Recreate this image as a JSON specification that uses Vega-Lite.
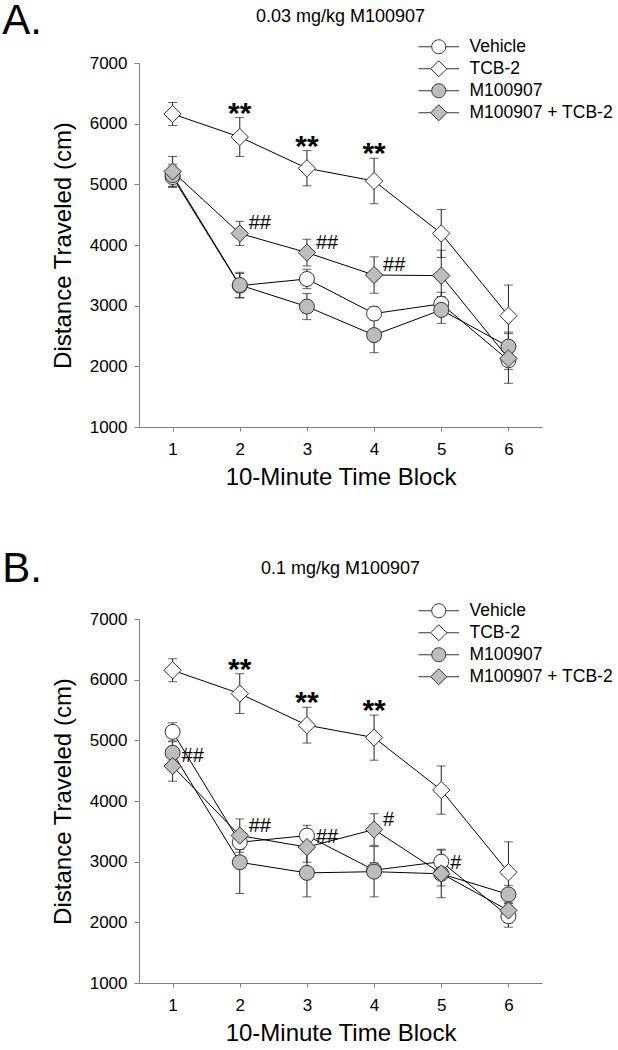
{
  "$schema": "https://vega.github.io/schema/vega-lite/v6.json",
  "background": "white",
  "padding": {"left": 2, "top": 0, "right": 0, "bottom": 0},
  "config": {
    "font": "Liberation Sans",
    "view": {"stroke": null},
    "axis": {"grid": false, "domainColor": "#808080", "tickColor": "#808080", "labelColor": "black", "titleColor": "black", "labelFontSize": 17, "titleFontSize": 24, "titleFontWeight": "normal", "labelFont": "Liberation Sans", "titleFont": "Liberation Sans"},
    "title": {"fontWeight": "normal", "color": "black", "font": "Liberation Sans"}
  },
  "datasets": {
    "pts": [
      {"panel": "A", "group": "Vehicle", "block": 1, "mean": 5120, "sem": 170},
      {"panel": "A", "group": "Vehicle", "block": 2, "mean": 3330, "sem": 200},
      {"panel": "A", "group": "Vehicle", "block": 3, "mean": 3440, "sem": 160},
      {"panel": "A", "group": "Vehicle", "block": 4, "mean": 2870, "sem": 110},
      {"panel": "A", "group": "Vehicle", "block": 5, "mean": 3030, "sem": 190},
      {"panel": "A", "group": "Vehicle", "block": 6, "mean": 2100, "sem": 150},
      {"panel": "A", "group": "TCB-2", "block": 1, "mean": 6160, "sem": 190},
      {"panel": "A", "group": "TCB-2", "block": 2, "mean": 5780, "sem": 320},
      {"panel": "A", "group": "TCB-2", "block": 3, "mean": 5265, "sem": 290},
      {"panel": "A", "group": "TCB-2", "block": 4, "mean": 5055, "sem": 375},
      {"panel": "A", "group": "TCB-2", "block": 5, "mean": 4190, "sem": 395},
      {"panel": "A", "group": "TCB-2", "block": 6, "mean": 2835, "sem": 505},
      {"panel": "A", "group": "M100907", "block": 1, "mean": 5150, "sem": 180},
      {"panel": "A", "group": "M100907", "block": 2, "mean": 3340, "sem": 210},
      {"panel": "A", "group": "M100907", "block": 3, "mean": 2985, "sem": 215},
      {"panel": "A", "group": "M100907", "block": 4, "mean": 2515, "sem": 290},
      {"panel": "A", "group": "M100907", "block": 5, "mean": 2930, "sem": 222},
      {"panel": "A", "group": "M100907", "block": 6, "mean": 2325, "sem": 240},
      {"panel": "A", "group": "M100907 + TCB-2", "block": 1, "mean": 5210, "sem": 248},
      {"panel": "A", "group": "M100907 + TCB-2", "block": 2, "mean": 4190, "sem": 200},
      {"panel": "A", "group": "M100907 + TCB-2", "block": 3, "mean": 3875, "sem": 220},
      {"panel": "A", "group": "M100907 + TCB-2", "block": 4, "mean": 3505, "sem": 300},
      {"panel": "A", "group": "M100907 + TCB-2", "block": 5, "mean": 3495, "sem": 420},
      {"panel": "A", "group": "M100907 + TCB-2", "block": 6, "mean": 2130, "sem": 410},
      {"panel": "B", "group": "Vehicle", "block": 1, "mean": 5140, "sem": 150},
      {"panel": "B", "group": "Vehicle", "block": 2, "mean": 3320, "sem": 120},
      {"panel": "B", "group": "Vehicle", "block": 3, "mean": 3430, "sem": 170},
      {"panel": "B", "group": "Vehicle", "block": 4, "mean": 2860, "sem": 120},
      {"panel": "B", "group": "Vehicle", "block": 5, "mean": 3000, "sem": 190},
      {"panel": "B", "group": "Vehicle", "block": 6, "mean": 2100, "sem": 180},
      {"panel": "B", "group": "TCB-2", "block": 1, "mean": 6155, "sem": 190},
      {"panel": "B", "group": "TCB-2", "block": 2, "mean": 5770, "sem": 328},
      {"panel": "B", "group": "TCB-2", "block": 3, "mean": 5250, "sem": 295},
      {"panel": "B", "group": "TCB-2", "block": 4, "mean": 5045, "sem": 372},
      {"panel": "B", "group": "TCB-2", "block": 5, "mean": 4180, "sem": 398},
      {"panel": "B", "group": "TCB-2", "block": 6, "mean": 2825, "sem": 502},
      {"panel": "B", "group": "M100907", "block": 1, "mean": 4795, "sem": 180},
      {"panel": "B", "group": "M100907", "block": 2, "mean": 2990, "sem": 515},
      {"panel": "B", "group": "M100907", "block": 3, "mean": 2815, "sem": 395},
      {"panel": "B", "group": "M100907", "block": 4, "mean": 2835, "sem": 415},
      {"panel": "B", "group": "M100907", "block": 5, "mean": 2800, "sem": 200},
      {"panel": "B", "group": "M100907", "block": 6, "mean": 2460, "sem": 150},
      {"panel": "B", "group": "M100907 + TCB-2", "block": 1, "mean": 4575, "sem": 250},
      {"panel": "B", "group": "M100907 + TCB-2", "block": 2, "mean": 3430, "sem": 275},
      {"panel": "B", "group": "M100907 + TCB-2", "block": 3, "mean": 3240, "sem": 250},
      {"panel": "B", "group": "M100907 + TCB-2", "block": 4, "mean": 3530, "sem": 260},
      {"panel": "B", "group": "M100907 + TCB-2", "block": 5, "mean": 2805, "sem": 400},
      {"panel": "B", "group": "M100907 + TCB-2", "block": 6, "mean": 2195, "sem": 200}
    ],
    "ann": [
      {"panel": "A", "kind": "star", "block": 2, "at": 6100, "label": "**"},
      {"panel": "A", "kind": "star", "block": 3, "at": 5555, "label": "**"},
      {"panel": "A", "kind": "star", "block": 4, "at": 5430, "label": "**"},
      {"panel": "A", "kind": "hash", "block": 2, "at": 4190, "label": "##"},
      {"panel": "A", "kind": "hash", "block": 3, "at": 3875, "label": "##"},
      {"panel": "A", "kind": "hash", "block": 4, "at": 3505, "label": "##"},
      {"panel": "B", "kind": "star", "block": 2, "at": 6098, "label": "**"},
      {"panel": "B", "kind": "star", "block": 3, "at": 5545, "label": "**"},
      {"panel": "B", "kind": "star", "block": 4, "at": 5417, "label": "**"},
      {"panel": "B", "kind": "hash", "block": 1, "at": 4575, "label": "##"},
      {"panel": "B", "kind": "hash", "block": 2, "at": 3430, "label": "##"},
      {"panel": "B", "kind": "hash", "block": 3, "at": 3240, "label": "##"},
      {"panel": "B", "kind": "hash", "block": 4, "at": 3530, "label": "#"},
      {"panel": "B", "kind": "hash", "block": 5, "at": 2805, "label": "#"}
    ]
  },
  "spacing": 59,
  "vconcat": [
    {
      "title": {"text": "A.", "anchor": "start", "fontSize": 42, "frame": "bounds", "offset": -35, "dx": -49},
      "vconcat": [
        {
          "title": {"text": "0.03 mg/kg M100907", "fontSize": 18, "frame": "group", "anchor": "middle", "offset": 12},
          "width": 403,
          "height": 364,
          "encoding": {
            "x": {"field": "block", "type": "quantitative", "scale": {"domain": [0.5, 6.5], "nice": false, "zero": false}, "axis": {"values": [1, 2, 3, 4, 5, 6], "title": "10-Minute Time Block", "tickSize": 4, "labelPadding": 10, "titlePadding": 8, "labelFlush": false}}
          },
          "layer": [
            {
              "data": {"name": "pts"}, "transform": [{"filter": "datum.panel == 'A'"}],
              "mark": {"type": "line", "color": "black", "strokeWidth": 1},
              "encoding": {
                "y": {"field": "mean", "type": "quantitative", "scale": {"domain": [1000, 7000], "nice": false, "zero": false}, "axis": {"values": [1000, 2000, 3000, 4000, 5000, 6000, 7000], "format": "d", "title": "Distance Traveled (cm)", "tickSize": 5, "labelPadding": 7, "titlePadding": 14}},
                "detail": {"field": "group"},
                "order": {"field": "block"}
              }
            },
            {
              "data": {"name": "pts"}, "transform": [{"filter": "datum.panel == 'A'"}],
              "mark": {"type": "errorbar", "ticks": true, "size": 9, "thickness": 1, "color": "#222"},
              "encoding": {
                "y": {"field": "mean", "type": "quantitative", "title": "Distance Traveled (cm)"},
                "yError": {"field": "sem"},
                "detail": {"field": "group"}
              }
            },
            {
              "data": {"name": "pts"}, "transform": [{"filter": "datum.panel == 'A'"}],
              "mark": {"type": "point", "filled": true, "stroke": "#333", "strokeWidth": 1, "size": 225, "opacity": 1},
              "encoding": {
                "y": {"field": "mean", "type": "quantitative", "title": "Distance Traveled (cm)"},
                "shape": {"field": "group", "type": "nominal", "scale": {"domain": ["Vehicle", "TCB-2", "M100907", "M100907 + TCB-2"], "range": ["circle", "M-1.15,0L0,-1.15L1.15,0L0,1.15Z", "circle", "M-1.15,0L0,-1.15L1.15,0L0,1.15Z"]}, "legend": null},
                "fill": {"field": "group", "type": "nominal", "scale": {"domain": ["Vehicle", "TCB-2", "M100907", "M100907 + TCB-2"], "range": ["white", "white", "#bdbdbd", "#bdbdbd"]}, "legend": null}
              }
            },
            {
              "data": {"name": "pts"}, "transform": [{"filter": "false"}],
              "mark": {"type": "point", "filled": true, "stroke": "#333", "strokeWidth": 1, "size": 196, "opacity": 1},
              "encoding": {
                "y": {"field": "mean", "type": "quantitative", "title": "Distance Traveled (cm)"},
                "shape": {"field": "group", "type": "nominal", "scale": {"domain": ["Vehicle", "TCB-2", "M100907", "M100907 + TCB-2"], "range": ["M-2.9,0H-1M1,0H2.9M-1,0A1,1,0,1,1,1,0A1,1,0,1,1,-1,0Z", "M-2.9,0H-1.15M1.15,0H2.9M-1.15,0L0,-1.15L1.15,0L0,1.15Z", "M-2.9,0H-1M1,0H2.9M-1,0A1,1,0,1,1,1,0A1,1,0,1,1,-1,0Z", "M-2.9,0H-1.15M1.15,0H2.9M-1.15,0L0,-1.15L1.15,0L0,1.15Z"]}, "legend": {"title": null, "orient": "none", "legendX": 291, "legendY": -25, "labelFontSize": 17.5, "labelColor": "black", "labelFont": "Liberation Sans", "symbolSize": 196, "labelOffset": 22, "rowPadding": 2, "padding": 0, "symbolStrokeColor": "#333", "symbolStrokeWidth": 1, "symbolOpacity": 1, "encode": {"symbols": {"update": {"stroke": {"value": "#333"}, "strokeWidth": {"value": 1}}}}}},
                "fill": {"field": "group", "type": "nominal", "scale": {"domain": ["Vehicle", "TCB-2", "M100907", "M100907 + TCB-2"], "range": ["white", "white", "#bdbdbd", "#bdbdbd"]}, "legend": {"title": null, "orient": "none", "legendX": 291, "legendY": -25, "labelFontSize": 17.5, "labelColor": "black", "labelFont": "Liberation Sans", "symbolSize": 196, "labelOffset": 22, "rowPadding": 2, "padding": 0, "symbolStrokeColor": "#333", "symbolStrokeWidth": 1, "symbolOpacity": 1, "encode": {"symbols": {"update": {"stroke": {"value": "#333"}, "strokeWidth": {"value": 1}}}}}}
              }
            },
            {
              "data": {"name": "ann"}, "transform": [{"filter": "datum.panel == 'A' && datum.kind == 'star'"}],
              "mark": {"type": "text", "fontSize": 30, "fontWeight": "bold", "align": "center", "baseline": "alphabetic", "dy": 5, "color": "black"},
              "encoding": {
                "y": {"field": "at", "type": "quantitative", "title": "Distance Traveled (cm)"},
                "text": {"field": "label"}
              }
            },
            {
              "data": {"name": "ann"}, "transform": [{"filter": "datum.panel == 'A' && datum.kind == 'hash'"}],
              "mark": {"type": "text", "fontSize": 20, "align": "left", "baseline": "alphabetic", "dx": 9, "dy": -4, "color": "black"},
              "encoding": {
                "y": {"field": "at", "type": "quantitative", "title": "Distance Traveled (cm)"},
                "text": {"field": "label"}
              }
            }
          ],
          "resolve": {"scale": {"shape": "independent", "fill": "independent"}}
        }
      ]
    },
    {
      "title": {"text": "B.", "anchor": "start", "fontSize": 42, "frame": "bounds", "offset": -31, "dx": -49},
      "vconcat": [
        {
          "title": {"text": "0.1 mg/kg M100907", "fontSize": 18, "frame": "group", "anchor": "middle", "offset": 24},
          "width": 403,
          "height": 364,
          "encoding": {
            "x": {"field": "block", "type": "quantitative", "scale": {"domain": [0.5, 6.5], "nice": false, "zero": false}, "axis": {"values": [1, 2, 3, 4, 5, 6], "title": "10-Minute Time Block", "tickSize": 4, "labelPadding": 10, "titlePadding": 8, "labelFlush": false}}
          },
          "layer": [
            {
              "data": {"name": "pts"}, "transform": [{"filter": "datum.panel == 'B'"}],
              "mark": {"type": "line", "color": "black", "strokeWidth": 1},
              "encoding": {
                "y": {"field": "mean", "type": "quantitative", "scale": {"domain": [1000, 7000], "nice": false, "zero": false}, "axis": {"values": [1000, 2000, 3000, 4000, 5000, 6000, 7000], "format": "d", "title": "Distance Traveled (cm)", "tickSize": 5, "labelPadding": 7, "titlePadding": 14}},
                "detail": {"field": "group"},
                "order": {"field": "block"}
              }
            },
            {
              "data": {"name": "pts"}, "transform": [{"filter": "datum.panel == 'B'"}],
              "mark": {"type": "errorbar", "ticks": true, "size": 9, "thickness": 1, "color": "#222"},
              "encoding": {
                "y": {"field": "mean", "type": "quantitative", "title": "Distance Traveled (cm)"},
                "yError": {"field": "sem"},
                "detail": {"field": "group"}
              }
            },
            {
              "data": {"name": "pts"}, "transform": [{"filter": "datum.panel == 'B'"}],
              "mark": {"type": "point", "filled": true, "stroke": "#333", "strokeWidth": 1, "size": 225, "opacity": 1},
              "encoding": {
                "y": {"field": "mean", "type": "quantitative", "title": "Distance Traveled (cm)"},
                "shape": {"field": "group", "type": "nominal", "scale": {"domain": ["Vehicle", "TCB-2", "M100907", "M100907 + TCB-2"], "range": ["circle", "M-1.15,0L0,-1.15L1.15,0L0,1.15Z", "circle", "M-1.15,0L0,-1.15L1.15,0L0,1.15Z"]}, "legend": null},
                "fill": {"field": "group", "type": "nominal", "scale": {"domain": ["Vehicle", "TCB-2", "M100907", "M100907 + TCB-2"], "range": ["white", "white", "#bdbdbd", "#bdbdbd"]}, "legend": null}
              }
            },
            {
              "data": {"name": "pts"}, "transform": [{"filter": "false"}],
              "mark": {"type": "point", "filled": true, "stroke": "#333", "strokeWidth": 1, "size": 196, "opacity": 1},
              "encoding": {
                "y": {"field": "mean", "type": "quantitative", "title": "Distance Traveled (cm)"},
                "shape": {"field": "group", "type": "nominal", "scale": {"domain": ["Vehicle", "TCB-2", "M100907", "M100907 + TCB-2"], "range": ["M-2.9,0H-1M1,0H2.9M-1,0A1,1,0,1,1,1,0A1,1,0,1,1,-1,0Z", "M-2.9,0H-1.15M1.15,0H2.9M-1.15,0L0,-1.15L1.15,0L0,1.15Z", "M-2.9,0H-1M1,0H2.9M-1,0A1,1,0,1,1,1,0A1,1,0,1,1,-1,0Z", "M-2.9,0H-1.15M1.15,0H2.9M-1.15,0L0,-1.15L1.15,0L0,1.15Z"]}, "legend": {"title": null, "orient": "none", "legendX": 291, "legendY": -17, "labelFontSize": 17.5, "labelColor": "black", "labelFont": "Liberation Sans", "symbolSize": 196, "labelOffset": 22, "rowPadding": 2, "padding": 0, "symbolStrokeColor": "#333", "symbolStrokeWidth": 1, "symbolOpacity": 1, "encode": {"symbols": {"update": {"stroke": {"value": "#333"}, "strokeWidth": {"value": 1}}}}}},
                "fill": {"field": "group", "type": "nominal", "scale": {"domain": ["Vehicle", "TCB-2", "M100907", "M100907 + TCB-2"], "range": ["white", "white", "#bdbdbd", "#bdbdbd"]}, "legend": {"title": null, "orient": "none", "legendX": 291, "legendY": -17, "labelFontSize": 17.5, "labelColor": "black", "labelFont": "Liberation Sans", "symbolSize": 196, "labelOffset": 22, "rowPadding": 2, "padding": 0, "symbolStrokeColor": "#333", "symbolStrokeWidth": 1, "symbolOpacity": 1, "encode": {"symbols": {"update": {"stroke": {"value": "#333"}, "strokeWidth": {"value": 1}}}}}}
              }
            },
            {
              "data": {"name": "ann"}, "transform": [{"filter": "datum.panel == 'B' && datum.kind == 'star'"}],
              "mark": {"type": "text", "fontSize": 30, "fontWeight": "bold", "align": "center", "baseline": "alphabetic", "dy": 5, "color": "black"},
              "encoding": {
                "y": {"field": "at", "type": "quantitative", "title": "Distance Traveled (cm)"},
                "text": {"field": "label"}
              }
            },
            {
              "data": {"name": "ann"}, "transform": [{"filter": "datum.panel == 'B' && datum.kind == 'hash'"}],
              "mark": {"type": "text", "fontSize": 20, "align": "left", "baseline": "alphabetic", "dx": 9, "dy": -4, "color": "black"},
              "encoding": {
                "y": {"field": "at", "type": "quantitative", "title": "Distance Traveled (cm)"},
                "text": {"field": "label"}
              }
            }
          ],
          "resolve": {"scale": {"shape": "independent", "fill": "independent"}}
        }
      ]
    }
  ]
}
